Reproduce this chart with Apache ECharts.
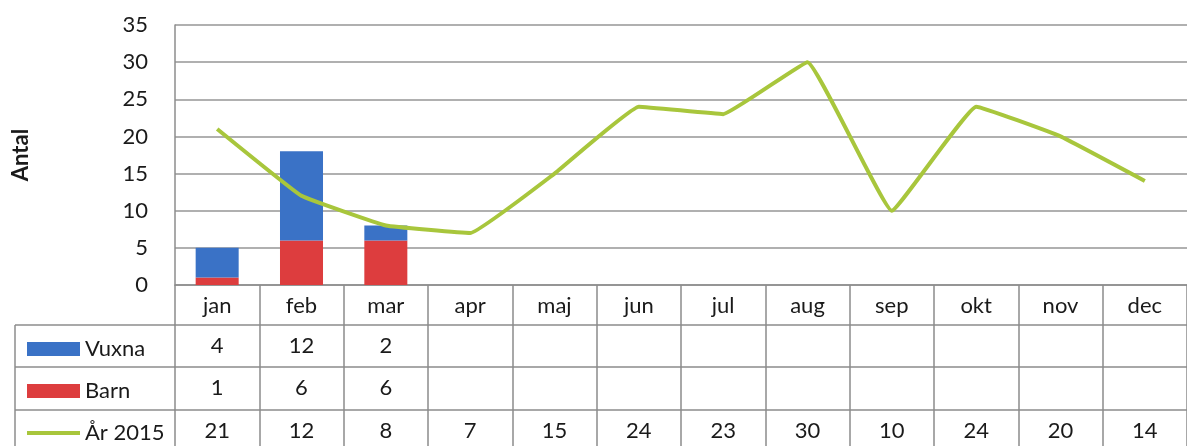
<!DOCTYPE html>
<html>
<head>
    <meta charset="utf-8">
    <title>Antal per månad</title>
    <script src="https://cdn.jsdelivr.net/npm/echarts@6/dist/echarts.min.js"></script>
    <style>
        html, body { margin: 0; padding: 0; background: #fff; }
        #container { width: 1187px; height: 446px; }
    </style>
</head>
<body>
<div id="container"></div>
<script type="text/javascript">
    // data
    var months = ['jan', 'feb', 'mar', 'apr', 'maj', 'jun', 'jul', 'aug', 'sep', 'okt', 'nov', 'dec'];
    var vuxna = [4, 12, 2];
    var barn = [1, 6, 6];
    var ar2015 = [21, 12, 8, 7, 15, 24, 23, 30, 10, 24, 20, 14];
    var yTicks = [0, 5, 10, 15, 20, 25, 30, 35];

    var FONT = 'Lato';
    var FS = 22;
    var TXT = '#1a1a1a';
    var BLUE = '#3a72c6', RED = '#dd3d3e', GREEN = '#a8c63c';
    var LINE_GRAY = '#8c8c8c';

    // text for a table row, blank where there is no value
    function rowText(arr) {
        return months.map(function (m, i) { return arr[i] == null ? '' : String(arr[i]); });
    }

    function tableAxis(data, offset) {
        return {
            type: 'category',
            position: 'bottom',
            offset: offset,
            data: data,
            axisLine: { show: true, lineStyle: { color: LINE_GRAY, width: 1.5 } },
            axisTick: { show: false },
            axisLabel: { margin: 21, verticalAlign: 'middle', fontFamily: FONT, fontSize: FS, color: TXT }
        };
    }

    var dom = document.getElementById('container');
    var myChart = echarts.init(dom);
    var option = {
        animation: false,
        grid: { left: 175, top: 25, right: -10, bottom: 161 },
        legend: [
            { data: [{ name: 'Vuxna', icon: 'rect' }], top: 333, itemHeight: 14 },
            { data: [{ name: 'Barn', icon: 'rect' }], top: 375, itemHeight: 14 },
            { data: [{ name: 'År 2015', icon: 'rect' }], top: 417, itemHeight: 4 }
        ].map(function (l) {
            l.left = 22;
            l.orient = 'vertical';
            l.itemWidth = 53;
            l.selectedMode = false;
            l.textStyle = { fontFamily: FONT, fontSize: FS, color: TXT, padding: [0, 0, 0, 0] };
            return l;
        }),
        xAxis: [
            {
                type: 'category',
                data: months,
                axisLine: { show: true, lineStyle: { color: LINE_GRAY, width: 1.5 } },
                axisTick: { show: true, length: 175, lineStyle: { color: LINE_GRAY, width: 1.5 } },
                axisLabel: { margin: 21, verticalAlign: 'middle', fontFamily: FONT, fontSize: FS, color: TXT }
            },
            tableAxis(rowText(vuxna), 40),
            tableAxis(rowText(barn), 82),
            tableAxis(rowText(ar2015), 125)
        ],
        yAxis: {
            type: 'value',
            min: 0,
            max: 35,
            interval: 5,
            name: 'Antal',
            nameLocation: 'middle',
            nameGap: 143,
            nameTextStyle: { fontFamily: FONT, fontSize: 22, fontWeight: 'bold', color: TXT },
            axisLine: { show: true, lineStyle: { color: LINE_GRAY, width: 1.5 } },
            axisTick: { show: false },
            axisLabel: {
                margin: 27, fontFamily: FONT, fontSize: FS, color: TXT,
                formatter: function (v) { return yTicks.indexOf(v) >= 0 ? String(v) : ''; }
            },
            splitLine: { lineStyle: { color: '#969696', width: 1.5 } }
        },
        graphic: [
            // left part of the data table (legend column)
            { type: 'line', shape: { x1: 15, y1: 325, x2: 15, y2: 446 }, style: { stroke: LINE_GRAY, lineWidth: 1.5 } },
            { type: 'line', shape: { x1: 15, y1: 325, x2: 175, y2: 325 }, style: { stroke: LINE_GRAY, lineWidth: 1.5 } },
            { type: 'line', shape: { x1: 15, y1: 367, x2: 175, y2: 367 }, style: { stroke: LINE_GRAY, lineWidth: 1.5 } },
            { type: 'line', shape: { x1: 15, y1: 410, x2: 175, y2: 410 }, style: { stroke: LINE_GRAY, lineWidth: 1.5 } }
        ],
        series: [
            {
                name: 'Barn',
                type: 'bar',
                stack: 'antal',
                barWidth: '51%',
                itemStyle: { color: RED },
                data: barn
            },
            {
                name: 'Vuxna',
                type: 'bar',
                stack: 'antal',
                barWidth: '51%',
                itemStyle: { color: BLUE },
                data: vuxna
            },
            {
                name: 'År 2015',
                type: 'line',
                smooth: 0.08,
                symbol: 'none',
                lineStyle: { color: GREEN, width: 4 },
                itemStyle: { color: GREEN },
                data: ar2015
            }
        ]
    };
    myChart.setOption(option);
</script>
</body>
</html>
